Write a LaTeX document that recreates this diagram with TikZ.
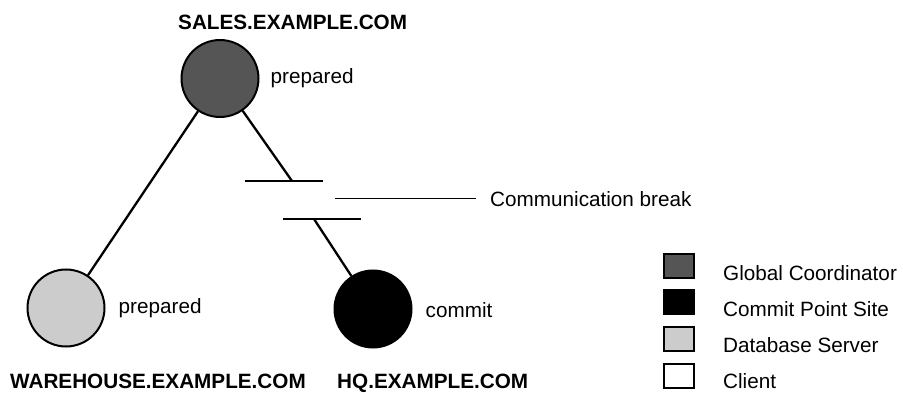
\documentclass[tikz,border=0pt]{standalone}
\usepackage{fontspec}
\setmainfont{Liberation Sans}
\usetikzlibrary{positioning}
\definecolor{gcoord}{HTML}{555555}
\definecolor{dbserver}{HTML}{CCCCCC}

\begin{document}
\begin{tikzpicture}[
    x=1pt, y=-1pt,
    font=\fontsize{20.7}{24}\selectfont,
    site/.style={circle, draw, line width=2pt, minimum size=77pt, inner sep=0pt},
    host/.style={anchor=base west, inner sep=0pt, font=\fontsize{20.7}{24}\selectfont\bfseries},
    lbl/.style={anchor=base west, inner sep=0pt},
    state/.style={inner sep=0pt},
    key/.style={draw, line width=2pt, minimum width=30pt, minimum height=24pt, inner sep=0pt},
    link/.style={line width=2.3pt},
    note/.style={line width=1pt},
  ]
    \useasboundingbox (0,0) rectangle (903,393);

    \node[site, fill=gcoord] (sales) at (220,78.5) {};
    \node[site, fill=dbserver] (warehouse) at (66,308) {};
    \node[site, fill=black] (hq) at (373,309) {};

    \node[host] (saleslbl) at (178,30) {SALES.EXAMPLE.COM};
    \node[host] (warehouselbl) at (10,388) {WAREHOUSE.EXAMPLE.COM};
    \node[host] (hqlbl) at (337,388) {HQ.EXAMPLE.COM};

    \node[state, right=11pt of sales] (salesst) {prepared};
    \node[state, right=13pt of warehouse] (warehousest) {prepared};
    \node[state, right=13pt of hq, yshift=-1pt] (hqst) {commit};

    % broken link
    \coordinate (brkA) at (292,181);
    \coordinate (brkB) at (314,219);
    \coordinate (barAl) at (245,181);
    \coordinate (barAr) at (323,181);
    \coordinate (barBl) at (283,219);
    \coordinate (barBr) at (361,219);
    \coordinate (ptr) at (335,199);
    \coordinate (ptrend) at (476,199);
    \node[lbl] (brk) at (490,207) {Communication break};

    \draw[link] (sales) -- (warehouse);
    \draw[link] (sales) -- (brkA);
    \draw[link] (barAl) -- (barAr);
    \draw[link] (barBl) -- (barBr);
    \draw[link] (brkB) -- (hq);
    \draw[note] (ptr) -- (ptrend);

    % legend
    \node[key, fill=gcoord] (kgc) at (679,266) {};
    \node[key, fill=black] (kcps) at (679,302) {};
    \node[key, fill=dbserver] (kdb) at (679,339) {};
    \node[key, fill=white] (kcl) at (679,376) {};
    \node[lbl] (tgc) at (723,280) {Global Coordinator};
    \node[lbl] (tcps) at (723,316) {Commit Point Site};
    \node[lbl] (tdb) at (723,352) {Database Server};
    \node[lbl] (tcl) at (723,388) {Client};
  \end{tikzpicture}
\end{document}
